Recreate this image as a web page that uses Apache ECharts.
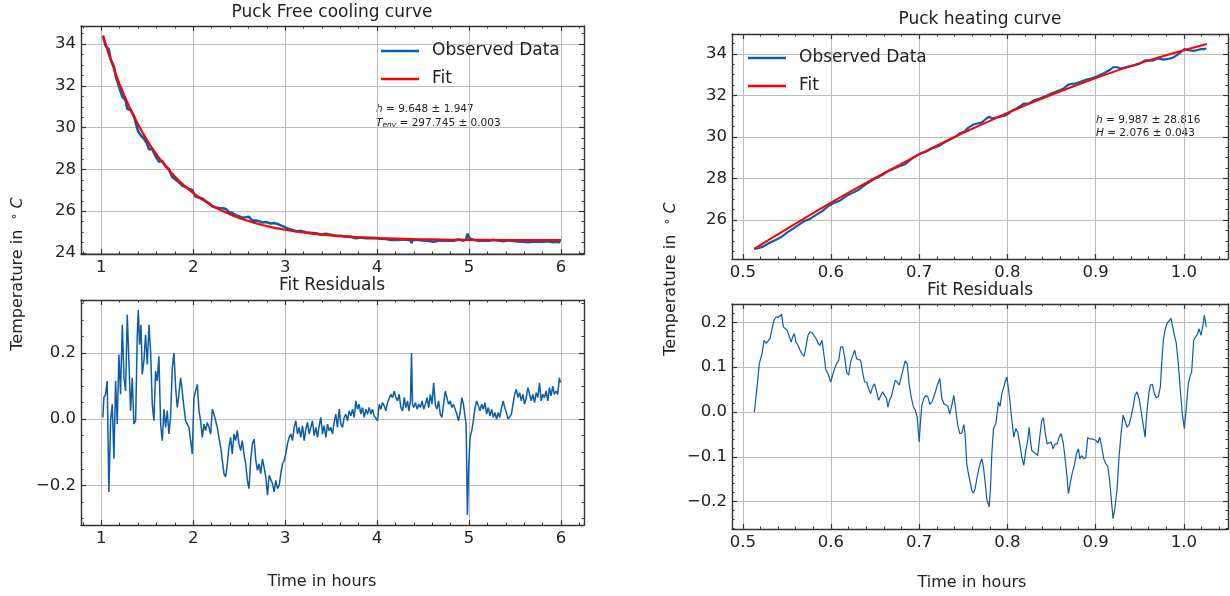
<!DOCTYPE html>
<html>
<head>
<meta charset="utf-8">
<script src="https://cdn.jsdelivr.net/npm/echarts@6/dist/echarts.min.js"></script>
<style>
  html, body { margin: 0; background: #fff; }
  #main { width: 1230px; height: 596px; }
</style>
</head>
<body>
<div id="main"></div>
<script>
var FONT = 'DejaVu Sans';
var BLUE = '#0C5DA5', RED = '#FF0000', INK = '#222';

// ---- tick labels
var coolTicksX = [1, 2, 3, 4, 5, 6];
var coolTicksY = [24, 26, 28, 30, 32, 34];
var coolResTicksY = [-0.2, 0, 0.2];
var heatTicksX = [0.5, 0.6, 0.7, 0.8, 0.9, 1.0];
var heatTicksY = [26, 28, 30, 32, 34];
var heatResTicksY = [-0.2, -0.1, 0, 0.1, 0.2];

// ---- cooling: [hours, degC]
var coolFit = [
  [1.02,34.40],[1.05,33.97],[1.08,33.56],[1.10,33.30],[1.12,33.04],[1.15,32.67],[1.20,32.09],
  [1.25,31.55],[1.30,31.05],[1.35,30.59],[1.40,30.16],[1.45,29.76],[1.50,29.39],[1.55,29.04],
  [1.60,28.72],[1.65,28.43],[1.70,28.15],[1.75,27.90],[1.80,27.66],[1.85,27.44],[1.90,27.24],
  [1.95,27.05],[2.00,26.87],[2.05,26.71],[2.10,26.56],[2.15,26.41],[2.20,26.28],[2.25,26.16],
  [2.30,26.05],[2.35,25.95],[2.40,25.85],[2.45,25.76],[2.50,25.68],[2.55,25.60],[2.60,25.53],
  [2.65,25.46],[2.70,25.40],[2.75,25.34],[2.80,25.29],[2.85,25.24],[2.90,25.19],[2.95,25.15],
  [3.00,25.11],[3.10,25.04],[3.20,24.98],[3.30,24.93],[3.40,24.88],[3.50,24.84],[3.60,24.81],
  [3.70,24.78],[3.80,24.75],[3.90,24.73],[4.00,24.71],[4.20,24.69],[4.40,24.66],[4.60,24.65],
  [4.80,24.63],[5.00,24.63],[5.50,24.61],[6.00,24.61]
];
var coolObserved = [
  [1.018,34.41],[1.047,33.94],[1.083,33.74],[1.102,33.28],[1.138,32.94],[1.156,32.49],[1.192,31.99],
  [1.229,31.49],[1.265,31.31],[1.283,30.91],[1.319,30.85],[1.355,30.55],[1.403,29.80],[1.432,29.62],
  [1.464,29.48],[1.501,29.21],[1.519,28.97],[1.555,28.97],[1.591,28.64],[1.627,28.37],[1.664,28.41],
  [1.700,28.17],[1.736,28.01],[1.773,27.63],[1.809,27.52],[1.845,27.39],[1.881,27.22],[1.918,27.17],
  [1.954,27.06],[1.990,27.01],[2.026,26.70],[2.063,26.64],[2.099,26.61],[2.135,26.49],[2.172,26.38],
  [2.208,26.23],[2.244,26.18],[2.280,26.15],[2.317,26.14],[2.353,26.11],[2.389,25.96],[2.425,25.91],
  [2.462,25.81],[2.498,25.76],[2.534,25.69],[2.571,25.71],[2.607,25.73],[2.643,25.55],[2.681,25.55],
  [2.717,25.52],[2.753,25.46],[2.790,25.48],[2.808,25.51],[2.844,25.41],[2.880,25.43],[2.917,25.39],
  [2.953,25.32],[2.989,25.25],[3.025,25.17],[3.062,25.12],[3.116,25.04],[3.170,25.05],[3.225,24.99],
  [3.279,24.96],[3.334,24.94],[3.388,24.88],[3.443,24.92],[3.497,24.87],[3.551,24.81],[3.606,24.82],
  [3.660,24.78],[3.715,24.77],[3.769,24.71],[3.823,24.74],[3.878,24.71],[3.932,24.71],[3.987,24.71],
  [4.041,24.68],[4.095,24.67],[4.150,24.62],[4.204,24.62],[4.259,24.64],[4.313,24.64],[4.363,24.61],
  [4.374,24.47],[4.385,24.62],[4.435,24.63],[4.489,24.60],[4.543,24.59],[4.615,24.54],[4.669,24.59],
  [4.723,24.60],[4.777,24.59],[4.831,24.59],[4.885,24.64],[4.939,24.59],[4.968,24.64],[4.982,24.92],
  [4.996,24.78],[5.011,24.68],[5.047,24.63],[5.101,24.58],[5.155,24.60],[5.209,24.59],[5.263,24.62],
  [5.317,24.60],[5.371,24.56],[5.424,24.61],[5.478,24.57],[5.532,24.55],[5.586,24.54],[5.640,24.52],
  [5.694,24.54],[5.748,24.55],[5.802,24.54],[5.856,24.56],[5.910,24.51],[5.964,24.54],[5.993,24.50]
];
var coolResidual = [
  [1.018,0.005],[1.029,0.065],[1.047,0.075],[1.065,0.115],[1.083,-0.22],[1.102,-0.005],[1.120,0.045],
  [1.138,-0.12],[1.156,0.115],[1.174,-0.015],[1.192,0.195],[1.210,0.075],[1.229,0.285],[1.247,0.125],
  [1.265,0.085],[1.283,0.315],[1.301,0.175],[1.319,0.025],[1.337,0.125],[1.355,-0.015],[1.374,-0.005],
  [1.392,0.255],[1.403,0.33],[1.417,0.225],[1.432,0.285],[1.446,0.135],[1.464,0.175],[1.482,0.255],
  [1.501,0.165],[1.519,0.285],[1.537,0.205],[1.555,0.045],[1.573,-0.005],[1.591,0.145],[1.609,0.115],
  [1.627,0.19],[1.646,-0.015],[1.664,-0.065],[1.682,0.03],[1.700,-0.025],[1.718,0.025],[1.736,-0.045],
  [1.754,0.005],[1.773,0.155],[1.791,0.2],[1.809,0.095],[1.827,0.035],[1.845,0.075],[1.863,0.125],
  [1.881,0.085],[1.900,0.035],[1.918,-0.005],[1.936,-0.015],[1.954,-0.025],[1.972,-0.065],[1.990,-0.105],
  [2.008,0.065],[2.026,0.085],[2.045,0.105],[2.063,0.025],[2.081,-0.005],[2.099,-0.055],[2.117,-0.015],
  [2.135,-0.035],[2.153,-0.01],[2.172,-0.025],[2.190,-0.045],[2.208,0.03],[2.226,0.015],[2.244,-0.005],
  [2.262,-0.025],[2.280,-0.055],[2.299,-0.085],[2.317,-0.125],[2.335,-0.165],[2.353,-0.175],[2.371,-0.135],
  [2.389,-0.085],[2.407,-0.055],[2.425,-0.105],[2.444,-0.045],[2.462,-0.065],[2.480,-0.035],[2.498,-0.075],
  [2.516,-0.095],[2.534,-0.065],[2.552,-0.105],[2.571,-0.135],[2.589,-0.185],[2.607,-0.21],[2.625,-0.125],
  [2.643,-0.075],[2.662,-0.06],[2.681,-0.125],[2.699,-0.155],[2.717,-0.135],[2.735,-0.165],[2.753,-0.12],
  [2.771,-0.145],[2.790,-0.175],[2.808,-0.23],[2.826,-0.17],[2.844,-0.165],[2.862,-0.195],[2.880,-0.22],
  [2.898,-0.185],[2.917,-0.21],[2.935,-0.2],[2.953,-0.165],[2.971,-0.135],[2.989,-0.125],[3.007,-0.105],
  [3.025,-0.075],[3.044,-0.055],[3.062,-0.045],[3.080,-0.065],[3.098,-0.025],[3.116,-0.005],[3.134,-0.045],
  [3.152,-0.025],[3.170,-0.055],[3.189,-0.02],[3.207,-0.065],[3.225,-0.03],[3.243,-0.01],[3.261,-0.045],
  [3.279,-0.025],[3.297,-0.005],[3.316,-0.05],[3.334,-0.025],[3.352,-0.055],[3.370,-0.02],[3.388,0.005],
  [3.406,-0.045],[3.424,-0.02],[3.443,-0.055],[3.461,-0.015],[3.479,-0.035],[3.497,-0.025],[3.515,-0.045],
  [3.533,-0.01],[3.551,0.015],[3.569,-0.025],[3.588,0.03],[3.606,-0.015],[3.624,-0.025],[3.642,0.005],
  [3.660,0.015],[3.678,-0.005],[3.696,0.025],[3.715,0.01],[3.733,0.03],[3.751,0.005],[3.769,0.055],
  [3.787,0.03],[3.805,0.045],[3.823,0.015],[3.841,0.035],[3.860,0.005],[3.878,0.03],[3.896,0.015],
  [3.914,0.035],[3.932,0.015],[3.950,0.03],[3.968,0.01],[3.987,0.005],[4.005,-0.005],[4.023,0.045],
  [4.041,0.03],[4.059,0.05],[4.077,0.04],[4.095,0.025],[4.114,0.05],[4.132,0.055],[4.150,0.075],
  [4.168,0.065],[4.186,0.085],[4.204,0.065],[4.222,0.055],[4.240,0.075],[4.259,0.035],[4.277,0.025],
  [4.295,0.065],[4.313,0.035],[4.331,0.055],[4.345,0.025],[4.363,0.055],[4.374,0.2],[4.385,0.045],
  [4.399,0.035],[4.417,0.05],[4.435,0.03],[4.453,0.045],[4.471,0.035],[4.489,0.055],[4.507,0.03],
  [4.525,0.045],[4.543,0.065],[4.561,0.035],[4.579,0.075],[4.597,0.045],[4.615,0.11],[4.633,0.045],
  [4.651,0.03],[4.669,0.055],[4.687,0.015],[4.705,0.005],[4.723,0.045],[4.741,0.085],[4.759,0.065],
  [4.777,0.045],[4.795,0.055],[4.813,0.035],[4.831,0.045],[4.849,0.03],[4.867,0.015],[4.885,-0.005],
  [4.903,0.02],[4.921,0.065],[4.939,0.045],[4.957,0.005],[4.968,-0.015],[4.982,-0.29],[4.996,-0.145],
  [5.011,-0.055],[5.029,-0.035],[5.047,-0.005],[5.065,0.035],[5.083,0.055],[5.101,0.04],[5.119,0.025],
  [5.137,0.045],[5.155,0.03],[5.173,0.05],[5.191,0.015],[5.209,0.035],[5.227,0.01],[5.245,0.03],
  [5.263,0.005],[5.281,0.02],[5.299,0.0],[5.317,0.02],[5.335,0.005],[5.353,0.035],[5.371,0.055],
  [5.388,0.035],[5.406,0.02],[5.424,0.0],[5.442,-0.005],[5.460,0.015],[5.478,0.045],[5.496,0.075],
  [5.514,0.09],[5.532,0.065],[5.550,0.08],[5.568,0.055],[5.586,0.075],[5.604,0.045],[5.622,0.065],
  [5.640,0.095],[5.658,0.075],[5.676,0.055],[5.694,0.075],[5.712,0.05],[5.730,0.08],[5.748,0.065],
  [5.766,0.11],[5.784,0.055],[5.802,0.075],[5.820,0.065],[5.838,0.085],[5.856,0.055],[5.874,0.095],
  [5.892,0.07],[5.910,0.1],[5.928,0.075],[5.946,0.085],[5.964,0.075],[5.982,0.125],[5.993,0.11]
];

// ---- heating: [hours, degC]
var heatFit = [
  [0.513,24.62],[0.53,25.06],[0.55,25.58],[0.575,26.22],[0.60,26.84],[0.625,27.44],[0.65,28.03],
  [0.675,28.60],[0.70,29.16],[0.725,29.69],[0.75,30.20],[0.775,30.68],[0.80,31.15],[0.825,31.60],
  [0.85,32.03],[0.875,32.44],[0.90,32.83],[0.925,33.20],[0.95,33.55],[0.975,33.87],[1.00,34.17],[1.026,34.47]
];
var heatObserved = [
  [0.5131,24.62],[0.5188,24.66],[0.5241,24.75],[0.5309,24.92],[0.5377,25.05],[0.5441,25.20],[0.5505,25.41],
  [0.5566,25.58],[0.5626,25.75],[0.5694,25.95],[0.5762,26.06],[0.583,26.25],[0.5898,26.42],[0.5966,26.66],
  [0.6041,26.84],[0.6109,26.96],[0.6177,27.17],[0.6245,27.31],[0.6313,27.46],[0.6381,27.68],[0.6449,27.87],
  [0.6517,28.03],[0.6585,28.18],[0.6645,28.35],[0.6705,28.46],[0.6773,28.59],[0.6841,28.69],[0.6909,28.93],
  [0.6977,29.12],[0.7015,29.21],[0.7075,29.28],[0.7143,29.44],[0.7211,29.54],[0.7279,29.72],[0.7347,29.88],
  [0.7415,30.02],[0.746,30.17],[0.7505,30.24],[0.7558,30.45],[0.7615,30.60],[0.7672,30.66],[0.771,30.70],
  [0.7766,30.90],[0.7793,30.97],[0.7823,30.90],[0.7868,30.93],[0.7917,30.98],[0.7974,31.03],[0.8012,31.12],
  [0.805,31.26],[0.8095,31.36],[0.814,31.47],[0.8185,31.60],[0.8246,31.61],[0.8298,31.76],[0.8366,31.85],
  [0.8427,31.95],[0.8495,32.09],[0.8563,32.20],[0.8631,32.31],[0.8691,32.52],[0.8759,32.56],[0.882,32.64],
  [0.8888,32.75],[0.8956,32.82],[0.9024,32.93],[0.9092,33.06],[0.916,33.22],[0.9197,33.35],[0.9243,33.35],
  [0.9288,33.29],[0.9356,33.37],[0.9424,33.43],[0.9492,33.51],[0.956,33.68],[0.9643,33.67],[0.9711,33.78],
  [0.9767,33.72],[0.9831,33.76],[0.9869,33.80],[0.9914,33.91],[0.996,34.07],[1.0005,34.22],[1.005,34.17],
  [1.0111,34.14],[1.0156,34.18],[1.0194,34.22],[1.0231,34.22],[1.0254,34.27]
];
var heatResidual = [
  [0.5131,0],[0.5162,0.056],[0.5188,0.108],[0.5218,0.13],[0.5241,0.16],[0.5264,0.153],[0.5286,0.154],
  [0.5309,0.164],[0.5332,0.186],[0.5354,0.205],[0.5377,0.212],[0.54,0.211],[0.5422,0.214],[0.5441,0.218],
  [0.546,0.19],[0.5482,0.191],[0.5505,0.182],[0.5528,0.168],[0.555,0.156],[0.5566,0.168],[0.5584,0.175],
  [0.5603,0.156],[0.5626,0.149],[0.5649,0.138],[0.5671,0.13],[0.5694,0.124],[0.5716,0.145],[0.5739,0.171],
  [0.5762,0.179],[0.5785,0.177],[0.5807,0.171],[0.583,0.164],[0.5853,0.154],[0.5875,0.149],[0.5898,0.16],
  [0.5921,0.127],[0.5943,0.093],[0.5966,0.086],[0.5996,0.067],[0.6019,0.082],[0.6041,0.097],[0.6064,0.108],
  [0.6087,0.115],[0.6109,0.145],[0.6132,0.146],[0.6155,0.123],[0.6177,0.089],[0.62,0.082],[0.6223,0.112],
  [0.6245,0.108],[0.6268,0.138],[0.629,0.119],[0.6313,0.117],[0.6336,0.116],[0.6358,0.089],[0.6381,0.067],
  [0.6404,0.067],[0.6426,0.052],[0.6449,0.041],[0.6472,0.056],[0.6494,0.063],[0.6517,0.045],[0.654,0.026],
  [0.6562,0.022],[0.6585,0.045],[0.6607,0.045],[0.663,0.03],[0.6645,0.011],[0.6664,0.026],[0.6683,0.034],
  [0.6705,0.034],[0.6728,0.071],[0.6751,0.067],[0.6773,0.06],[0.6796,0.078],[0.6819,0.097],[0.6841,0.114],
  [0.6864,0.108],[0.6887,0.06],[0.6909,0.034],[0.6932,0.013],[0.6955,0.004],[0.6977,-0.011],[0.7,-0.067],
  [0.7015,-0.019],[0.703,0.015],[0.7052,0.03],[0.7075,0.037],[0.7098,0.034],[0.712,0.017],[0.7143,0.022],
  [0.7166,0.034],[0.7188,0.048],[0.7211,0.063],[0.7234,0.075],[0.7256,0.03],[0.7279,0.019],[0.7301,0.015],
  [0.7324,0.013],[0.7347,-0.004],[0.7369,0.015],[0.7392,0.037],[0.7415,0.004],[0.7437,-0.03],[0.746,-0.048],
  [0.7483,-0.047],[0.7505,-0.028],[0.752,-0.048],[0.7539,-0.115],[0.7558,-0.138],[0.7577,-0.156],[0.7596,-0.175],
  [0.7615,-0.181],[0.7634,-0.171],[0.7653,-0.149],[0.7672,-0.13],[0.7691,-0.115],[0.771,-0.104],[0.7728,-0.123],
  [0.7747,-0.156],[0.7766,-0.194],[0.7793,-0.212],[0.7808,-0.168],[0.7823,-0.093],[0.7842,-0.037],[0.7868,-0.026],
  [0.7883,-0.004],[0.7898,0.022],[0.7917,0.013],[0.7936,0.041],[0.7959,0.056],[0.7974,0.067],[0.7993,0.078],
  [0.8012,0.052],[0.8031,0.019],[0.805,-0.019],[0.8072,-0.056],[0.8095,-0.037],[0.8117,-0.045],[0.814,-0.071],
  [0.8163,-0.101],[0.8185,-0.119],[0.8208,-0.086],[0.823,-0.063],[0.8246,-0.034],[0.8261,-0.063],[0.8276,-0.086],
  [0.8298,-0.082],[0.8321,-0.093],[0.8344,-0.097],[0.8366,-0.056],[0.8389,-0.019],[0.8408,-0.013],[0.8427,-0.045],
  [0.845,-0.071],[0.8472,-0.072],[0.8495,-0.067],[0.8518,-0.082],[0.854,-0.071],[0.8563,-0.071],[0.8586,-0.056],
  [0.8608,-0.048],[0.8631,-0.067],[0.8654,-0.104],[0.8676,-0.145],[0.8691,-0.182],[0.8714,-0.156],[0.8737,-0.134],
  [0.8759,-0.119],[0.8782,-0.093],[0.8805,-0.082],[0.882,-0.104],[0.8842,-0.097],[0.8865,-0.104],[0.8888,-0.102],
  [0.891,-0.057],[0.8933,-0.06],[0.8956,-0.06],[0.8978,-0.06],[0.9001,-0.063],[0.9024,-0.069],[0.9046,-0.056],
  [0.9069,-0.078],[0.9092,-0.104],[0.9114,-0.115],[0.9137,-0.121],[0.916,-0.156],[0.9182,-0.205],[0.9197,-0.238],
  [0.922,-0.212],[0.9243,-0.171],[0.9265,-0.1],[0.9288,-0.048],[0.9311,-0.007],[0.9333,-0.011],[0.9356,-0.034],
  [0.9379,-0.028],[0.9401,-0.011],[0.9424,0.011],[0.9446,0.037],[0.9469,0.045],[0.9492,0.03],[0.9514,0.004],
  [0.9537,-0.026],[0.956,-0.056],[0.9582,0.004],[0.9605,0.045],[0.962,0.06],[0.9643,0.062],[0.9665,0.041],
  [0.9688,0.032],[0.9711,0.034],[0.9733,0.056],[0.9748,0.108],[0.9767,0.16],[0.9786,0.183],[0.9809,0.198],
  [0.9831,0.201],[0.9854,0.209],[0.9869,0.211],[0.9892,0.171],[0.9914,0.153],[0.9937,0.108],[0.996,0.048],
  [0.9982,-0.004],[1.0005,-0.037],[1.0028,0.011],[1.005,0.063],[1.0073,0.082],[1.0088,0.089],[1.0111,0.16],
  [1.0133,0.164],[1.0156,0.175],[1.0171,0.186],[1.0194,0.171],[1.0216,0.194],[1.0231,0.216],[1.0254,0.19]
];

// minor tick positions between the labelled ones
function minorTicks(lo, hi, step, majors) {
  var out = [];
  for (var k = Math.ceil(lo / step - 1e-9); k * step <= hi + 1e-9; k++) {
    var v = Math.round(k * step * 1e6) / 1e6;
    if (majors.indexOf(v) < 0) out.push(v);
  }
  return out;
}

function majorAxis(g, pos, r, main) {
  return {
    type: 'value', gridIndex: g, position: pos, min: r.min, max: r.max,
    axisLine: { show: true, onZero: false, lineStyle: { color: '#333', width: 1.4 } },
    axisTick: { show: true, inside: true, length: 5, customValues: r.majors,
      lineStyle: { color: '#333', width: 1.2 } },
    axisLabel: { show: main, customValues: r.majors, margin: 5, fontSize: 16.5, color: INK, fontFamily: FONT,
      formatter: function (v) { return (v < 0 ? '\u2212' : '') + Math.abs(v).toFixed(r.dec); } },
    splitLine: { show: main, lineStyle: { color: '#bdbdbd', width: 1 } }
  };
}
function minorAxis(g, pos, r) {
  return {
    type: 'value', gridIndex: g, position: pos, min: r.min, max: r.max,
    axisLine: { show: false, onZero: false }, axisLabel: { show: false }, splitLine: { show: false },
    axisTick: { show: true, inside: true, length: 2.5,
      customValues: minorTicks(r.min, r.max, r.step, r.majors),
      lineStyle: { color: '#333', width: 1 } }
  };
}

var grids = [], xAxes = [], yAxes = [];
function addPanel(rect, xr, yr) {
  var g = grids.length;
  var box = { left: rect[0], top: rect[1], width: rect[2], height: rect[3] };
  grids.push(Object.assign({}, box), Object.assign({}, box));
  var idx = { x: xAxes.length, y: yAxes.length };
  xAxes.push(majorAxis(g, 'bottom', xr, true), majorAxis(g, 'top', xr, false),
             minorAxis(g + 1, 'bottom', xr), minorAxis(g + 1, 'top', xr));
  yAxes.push(majorAxis(g, 'left', yr, true), majorAxis(g, 'right', yr, false),
             minorAxis(g + 1, 'left', yr), minorAxis(g + 1, 'right', yr));
  return idx;
}

var coolX = { min: 0.78, max: 6.25, majors: coolTicksX, step: 0.2, dec: 0 };
var heatX = { min: 0.4878, max: 1.05, majors: heatTicksX, step: 0.02, dec: 1 };
var pTL = addPanel([81, 26, 503, 228], coolX, { min: 23.95, max: 34.87, majors: coolTicksY, step: 0.5, dec: 0 });
var pBL = addPanel([81, 300, 503, 225], coolX, { min: -0.32, max: 0.36, majors: coolResTicksY, step: 0.05, dec: 1 });
var pTR = addPanel([732, 34, 496, 225], heatX, { min: 24.13, max: 34.95, majors: heatTicksY, step: 0.5, dec: 0 });
var pBR = addPanel([732, 304, 496, 225], heatX, { min: -0.261, max: 0.241, majors: heatResTicksY, step: 0.02, dec: 1 });

function line(name, p, data, color, width, extra) {
  return Object.assign({
    name: name, type: 'line', xAxisIndex: p.x, yAxisIndex: p.y, data: data,
    symbol: 'none', showSymbol: false, color: color,
    lineStyle: { color: color, width: width }, itemStyle: { color: color }
  }, extra || {});
}

function txt(x, y, s, size, extra) {
  return Object.assign({
    type: 'text', x: x, y: y, silent: true,
    style: { text: s, fontSize: size, fontFamily: FONT, fill: INK, align: 'center', verticalAlign: 'middle' }
  }, extra || {});
}
var mathRich = {
  i: { fontStyle: 'italic', fontSize: 10.5, fontFamily: FONT, fill: INK },
  sub: { fontStyle: 'italic', fontSize: 7.5, fontFamily: FONT, fill: INK, padding: [5, 0, 0, 0] }
};
function note(x, y, s) {
  return { type: 'text', x: x, y: y, silent: true,
    style: { text: s, rich: mathRich, fontSize: 10.5, fontFamily: FONT, fill: INK, align: 'left', verticalAlign: 'middle' } };
}
var yRich = {
  deg: { fontSize: 12, fontFamily: FONT, fill: INK },
  it: { fontSize: 16, fontStyle: 'italic', fontFamily: FONT, fill: INK }
};
function yName(x, y) {
  return { type: 'text', x: x, y: y, rotation: Math.PI / 2, silent: true,
    style: { text: 'Temperature in  {deg|°} {it|C}', rich: yRich, fontSize: 16, fontFamily: FONT, fill: INK,
      align: 'center', verticalAlign: 'middle' } };
}

var legendBase = {
  orient: 'vertical', padding: 0, icon: 'rect', itemWidth: 38, itemHeight: 2.5, itemGap: 10,
  selectedMode: false, data: ['Observed Data', 'Fit'],
  textStyle: { fontSize: 17, fontFamily: FONT, color: INK, lineHeight: 18, padding: [0, 0, 0, 8] }
};

var myChart = echarts.init(document.getElementById('main'));
myChart.setOption({
  animation: false,
  backgroundColor: '#fff',
  grid: grids,
  xAxis: xAxes,
  yAxis: yAxes,
  legend: [
    Object.assign({}, legendBase, { left: 381, top: 42 }),
    Object.assign({}, legendBase, { left: 748, top: 49 })
  ],
  series: [
    line('Observed Data', pTL, coolObserved, BLUE, 2.6),
    line('Fit', pTL, coolFit, RED, 2.2, { z: 3 }),
    line('Residuals', pBL, coolResidual, BLUE, 1.5),
    line('Observed Data', pTR, heatObserved, BLUE, 2.2),
    line('Fit', pTR, heatFit, RED, 2, { z: 3 }),
    line('Residuals', pBR, heatResidual, BLUE, 1.2)
  ],
  graphic: [
    txt(332, 13, 'Puck Free cooling curve', 17),
    txt(332, 286, 'Fit Residuals', 17),
    txt(980, 20, 'Puck heating curve', 17),
    txt(980, 291, 'Fit Residuals', 17),
    txt(322, 582, 'Time in hours', 16),
    txt(972, 583, 'Time in hours', 16),
    yName(18, 274),
    yName(671, 279),
    note(376, 109, '{i|h} = 9.648 ± 1.947'),
    note(376, 123, '{i|T}{sub|env} = 297.745 ± 0.003'),
    note(1096, 120, '{i|h} = 9.987 ± 28.816'),
    note(1096, 133, '{i|H} = 2.076 ± 0.043')
  ]
});
</script>
</body>
</html>
